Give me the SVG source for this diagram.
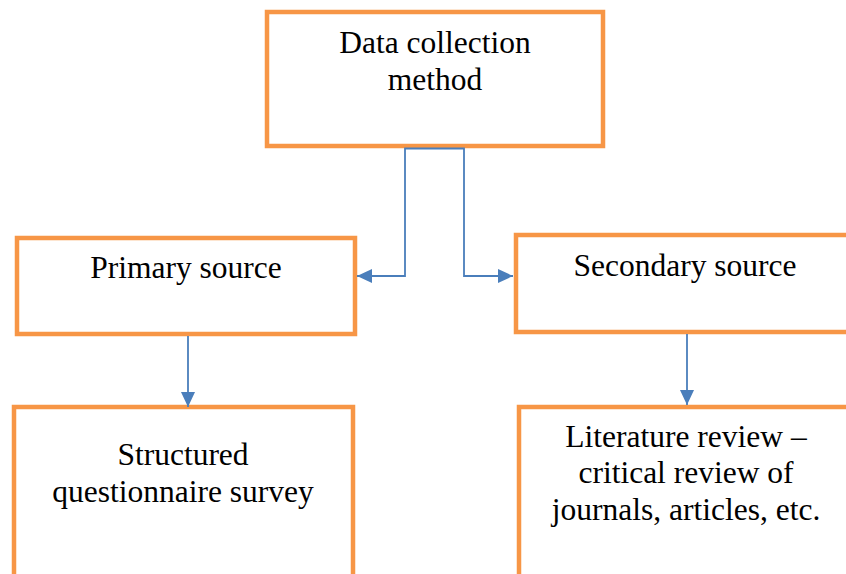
<svg xmlns="http://www.w3.org/2000/svg" width="846" height="574" viewBox="0 0 846 574">
  <style>
    .box { fill: #ffffff; stroke: #f79646; stroke-width: 4.5; }
    .label { font-family: "Liberation Serif", "Times New Roman", serif; font-size: 31.5px; fill: #000000; text-anchor: middle; }
    .link { fill: none; stroke: #4a7ebb; stroke-width: 1.8; }
  </style>
  <defs>
    <marker id="arrow" viewBox="0 0 15 14" refX="15" refY="7" markerWidth="15" markerHeight="14" markerUnits="userSpaceOnUse" orient="auto">
      <path d="M0,0 L15,7 L0,14 Z" fill="#4a7ebb"/>
    </marker>
  </defs>
  <rect width="846" height="574" fill="#ffffff"/>

  <g id="data-collection">
    <rect class="box" x="267" y="12" width="336" height="134"/>
    <text class="label" x="435" y="53">Data collection</text>
    <text class="label" x="435" y="90">method</text>
  </g>

  <g id="primary-source">
    <rect class="box" x="17" y="238" width="338" height="96"/>
    <text class="label" x="186" y="278">Primary source</text>
  </g>

  <g id="secondary-source">
    <rect class="box" x="516" y="235" width="340" height="97"/>
    <text class="label" x="685" y="276">Secondary source</text>
  </g>

  <g id="questionnaire">
    <rect class="box" x="14" y="407" width="339" height="180"/>
    <text class="label" x="183" y="465">Structured</text>
    <text class="label" x="183" y="502">questionnaire survey</text>
  </g>

  <g id="literature-review">
    <rect class="box" x="519" y="407" width="340" height="180"/>
    <text class="label" x="686" y="447">Literature review –</text>
    <text class="label" x="686" y="483">critical review of</text>
    <text class="label" x="686" y="520">journals, articles, etc.</text>
  </g>

  <g id="connectors">
    <path class="link" d="M435,148.5 L405,148.5 L405,276 L357,276" marker-end="url(#arrow)"/>
    <path class="link" d="M435,148.5 L464,148.5 L464,276 L513,276" marker-end="url(#arrow)"/>
    <path class="link" d="M188,336 L188,407" marker-end="url(#arrow)"/>
    <path class="link" d="M687,334 L687,405" marker-end="url(#arrow)"/>
  </g>
</svg>
